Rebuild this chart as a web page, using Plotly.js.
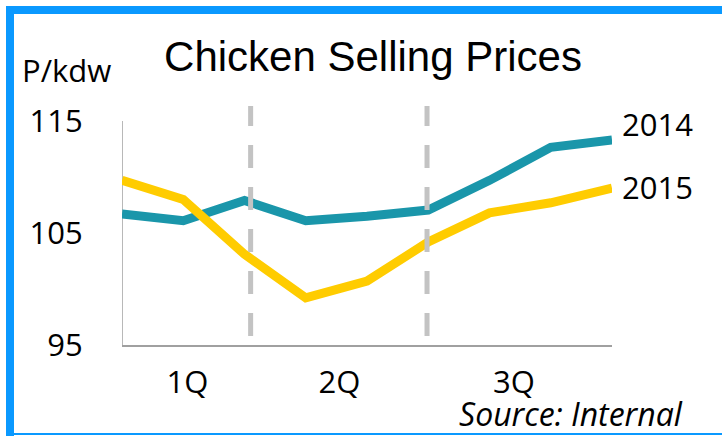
<!DOCTYPE html>
<html>
<head>
<meta charset="utf-8">
<script src="https://cdn.plot.ly/plotly-3.0.1.min.js"></script>
<style>
  html, body { margin: 0; padding: 0; background: #fff; }
  #wrap { position: relative; width: 722px; height: 439px; overflow: hidden; }
  #chart { position: absolute; left: 0; top: 0; width: 722px; height: 439px; }
  .bl { position: absolute; left: 6px; top: 6px; width: 8px; height: 430px; background: #0A99FF; }
  .bt { position: absolute; left: 6px; top: 6px; width: 716px; height: 8px; background: #0A99FF; }
  .bb { position: absolute; left: 6px; top: 433px; width: 716px; height: 2px; background: #0A99FF; }
</style>
</head>
<body>
<div id="wrap">
  <div id="chart"></div>
  <div class="bl"></div><div class="bt"></div><div class="bb"></div>
</div>
<script>
// Data
const periods = [0, 1, 2, 3, 4, 5, 6, 7, 8];
const prices2014 = [106.7, 106.1, 107.9, 106.1, 106.5, 107.05, 109.7, 112.65, 113.3];
const prices2015 = [109.7, 108.0, 103.1, 99.2, 100.7, 104.2, 106.8, 107.7, 109.0];
const quarterPos = [1.07, 3.55, 6.4];
const quarterLabels = ['1Q', '2Q', '3Q'];
const yTickVals = [95, 105, 115];
const quarterDividers = [2.1, 4.98];
const seriesNames = ['2014', '2015'];

const calib = 'Open Sans, Noto Sans, sans-serif';

const traces = [
  { x: periods, y: prices2014, type: 'scatter', mode: 'lines', name: seriesNames[0],
    line: { color: '#1A96AA', width: 9 } },
  { x: periods, y: prices2015, type: 'scatter', mode: 'lines', name: seriesNames[1],
    line: { color: '#FFCC00', width: 9 } }
];

const shapes = quarterDividers.map(d => ({
  type: 'line', xref: 'x', yref: 'y', x0: d, x1: d, y0: 95.8, y1: 116.34,
  line: { color: '#C3C3C3', width: 5, dash: '23px,19px' }, layer: 'above'
}));
shapes.push({
  type: 'line', xref: 'x', yref: 'y', x0: 0, x1: 0, y0: 95, y1: 115,
  line: { color: '#A0A0A0', width: 1.5 }, layer: 'below'
});

const last = periods.length - 1;
const layout = {
  width: 722, height: 439,
  margin: { l: 122, r: 110, t: 104, b: 94 },
  paper_bgcolor: 'rgba(0,0,0,0)', plot_bgcolor: 'rgba(0,0,0,0)',
  showlegend: false,
  title: { text: 'Chicken Selling Prices', font: { family: 'Liberation Sans, Arial, sans-serif', size: 42, color: '#000' },
           x: 373 / 722, xref: 'container', xanchor: 'center', y: 1 - 56 / 439, yref: 'container', yanchor: 'middle' },
  xaxis: {
    range: [0, 8], showgrid: false, zeroline: false, showline: true, linecolor: '#A0A0A0', linewidth: 1.5,
    tickmode: 'array', tickvals: quarterPos, ticktext: quarterLabels,
    ticks: 'outside', ticklen: 9, tickcolor: 'rgba(0,0,0,0)',
    tickfont: { family: calib, size: 31, color: '#000' }, fixedrange: true
  },
  yaxis: {
    range: [95, 95 + (345 - 104) / 11.2], showgrid: false, zeroline: false, showline: false,
    tickmode: 'array', tickvals: yTickVals, ticktext: yTickVals.map(String),
    ticks: 'outside', ticklen: 32, tickcolor: 'rgba(0,0,0,0)',
    tickfont: { family: calib, size: 31, color: '#000' }, fixedrange: true
  },
  shapes: shapes,
  annotations: [
    { text: seriesNames[0], x: periods[last], y: prices2014[last], xref: 'x', yref: 'y', xanchor: 'left', yanchor: 'middle',
      xshift: 8, yshift: 16, showarrow: false, font: { family: calib, size: 31, color: '#000' } },
    { text: seriesNames[1], x: periods[last], y: prices2015[last], xref: 'x', yref: 'y', xanchor: 'left', yanchor: 'middle',
      xshift: 8, yshift: 1, showarrow: false, font: { family: calib, size: 31, color: '#000' } },
    { text: 'P/kdw', xref: 'paper', yref: 'paper', x: (20 - 122) / 490, y: 1 + (104 - 70) / 241, xanchor: 'left', yanchor: 'middle',
      showarrow: false, font: { family: calib, size: 31, color: '#000' } },
    { text: '<i>Source: Internal</i>', xref: 'paper', yref: 'paper', x: (685 - 122) / 490, y: -(413 - 345) / 241, xanchor: 'right', yanchor: 'middle',
      showarrow: false, font: { family: calib, size: 32, color: '#000' } }
  ]
};

Plotly.newPlot('chart', traces, layout, { staticPlot: true, displayModeBar: false });
</script>
</body>
</html>
